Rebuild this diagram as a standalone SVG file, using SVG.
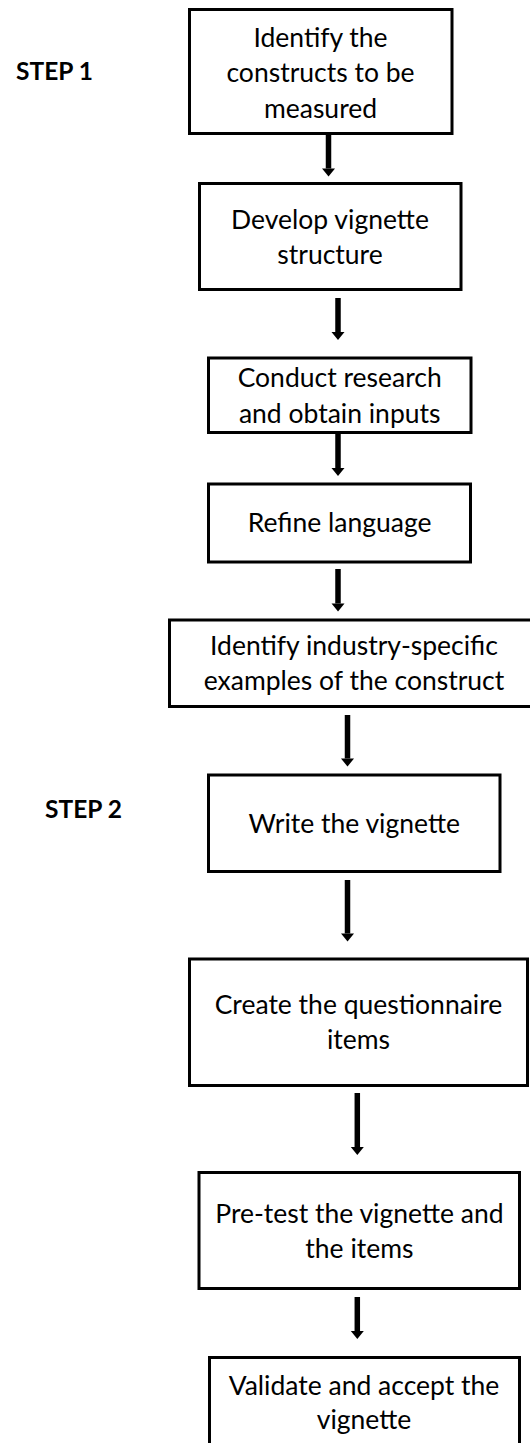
<svg xmlns="http://www.w3.org/2000/svg" width="530" height="1443" viewBox="0 0 530 1443">
  <style>
    .box { fill: #ffffff; stroke: #000000; stroke-width: 3; }
    .lbl { font-family: Lato, "Open Sans", "Liberation Sans", sans-serif; font-size: 26.5px; fill: #000000; text-anchor: middle; }
    .step { font-family: Lato, "Open Sans", "Liberation Sans", sans-serif; font-size: 24.5px; font-weight: bold; fill: #000000; }
    .conn { stroke: #000000; stroke-width: 5.5; fill: none; marker-end: url(#head); }
  </style>
  <defs>
    <marker id="head" markerUnits="userSpaceOnUse" markerWidth="10" markerHeight="14" viewBox="0 -7 9 14" refX="0" refY="0" orient="auto" overflow="visible">
      <path d="M0,-6.5 L8,0 L0,6.5 Z" fill="#000000"/>
    </marker>
  </defs>
  <rect width="530" height="1443" fill="#ffffff"/>

  <text class="step" x="16" y="80">STEP 1</text>
  <text class="step" x="45" y="818">STEP 2</text>

  <g id="n1">
    <rect class="box" x="189.5" y="9.5" width="262.5" height="124"/>
    <text class="lbl" x="320.5" y="46.5">Identify the</text>
    <text class="lbl" x="320.5" y="82">constructs to be</text>
    <text class="lbl" x="320.5" y="117.5">measured</text>
  </g>
  <g id="n2">
    <rect class="box" x="199.5" y="183.5" width="261.5" height="106"/>
    <text class="lbl" x="330" y="228.5">Develop vignette</text>
    <text class="lbl" x="330" y="264">structure</text>
  </g>
  <g id="n3">
    <rect class="box" x="208.5" y="358" width="262.5" height="74.5"/>
    <text class="lbl" x="339.7" y="386.7">Conduct research</text>
    <text class="lbl" x="339.7" y="422.7">and obtain inputs</text>
  </g>
  <g id="n4">
    <rect class="box" x="208.5" y="484" width="262" height="78"/>
    <text class="lbl" x="339.6" y="531.7">Refine language</text>
  </g>
  <g id="n5">
    <rect class="box" x="169.5" y="620" width="370" height="86.5"/>
    <text class="lbl" x="354" y="655">Identify industry-specific</text>
    <text class="lbl" x="354" y="690">examples of the construct</text>
  </g>
  <g id="n6">
    <rect class="box" x="208.5" y="775" width="291.5" height="96.5"/>
    <text class="lbl" x="354.2" y="832.7">Write the vignette</text>
  </g>
  <g id="n7">
    <rect class="box" x="189.5" y="959" width="338" height="126.5"/>
    <text class="lbl" x="358.5" y="1014">Create the questionnaire</text>
    <text class="lbl" x="358.5" y="1049.3">items</text>
  </g>
  <g id="n8">
    <rect class="box" x="199" y="1172.5" width="320.5" height="116"/>
    <text class="lbl" x="359.4" y="1222.7">Pre-test the vignette and</text>
    <text class="lbl" x="359.4" y="1258.3">the items</text>
  </g>
  <g id="n9">
    <rect class="box" x="209.5" y="1357.5" width="310" height="100"/>
    <text class="lbl" x="364" y="1395">Validate and accept the</text>
    <text class="lbl" x="364" y="1429.3">vignette</text>
  </g>

  <g id="connectors">
    <line class="conn" x1="328.5" y1="134" x2="328.5" y2="168.5"/>
    <line class="conn" x1="338" y1="298" x2="338" y2="332"/>
    <line class="conn" x1="338" y1="433" x2="338" y2="468"/>
    <line class="conn" x1="338" y1="569" x2="338" y2="603.5"/>
    <line class="conn" x1="347.5" y1="715" x2="347.5" y2="758.5"/>
    <line class="conn" x1="347.5" y1="880" x2="347.5" y2="933.5"/>
    <line class="conn" x1="357.3" y1="1093" x2="357.3" y2="1147"/>
    <line class="conn" x1="357.3" y1="1297" x2="357.3" y2="1331"/>
  </g>
</svg>
